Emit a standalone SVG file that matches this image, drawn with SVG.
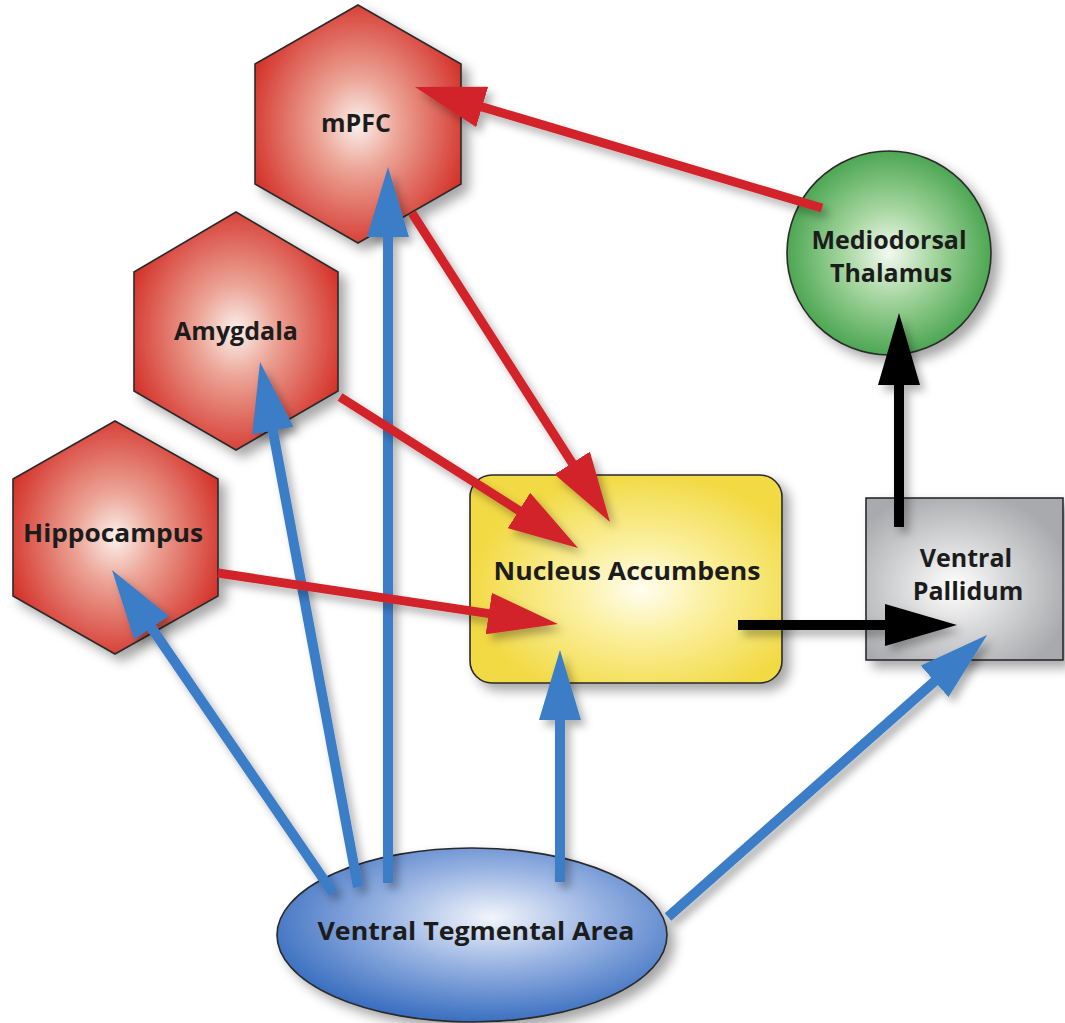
<svg xmlns="http://www.w3.org/2000/svg" width="1065" height="1023" viewBox="0 0 1065 1023">
<defs>
<radialGradient id="gRed" cx="50%" cy="50%" r="55%">
<stop offset="0" stop-color="#fbf1ee"/>
<stop offset="0.35" stop-color="#eca597"/>
<stop offset="1" stop-color="#d4322a"/>
</radialGradient>
<radialGradient id="gYellow" cx="55%" cy="55%" r="55%">
<stop offset="0" stop-color="#fffdf0"/>
<stop offset="0.4" stop-color="#fbf0a0"/>
<stop offset="1" stop-color="#f2da45"/>
</radialGradient>
<radialGradient id="gGray" cx="45%" cy="55%" r="60%">
<stop offset="0" stop-color="#ffffff"/>
<stop offset="1" stop-color="#a9aaad"/>
</radialGradient>
<radialGradient id="gGreen" cx="50%" cy="50%" r="55%">
<stop offset="0" stop-color="#f3f9f1"/>
<stop offset="0.4" stop-color="#a6d6a0"/>
<stop offset="1" stop-color="#3d9e45"/>
</radialGradient>
<radialGradient id="gBlue" cx="55%" cy="40%" r="60%">
<stop offset="0" stop-color="#f2f5fb"/>
<stop offset="0.45" stop-color="#9bb5e3"/>
<stop offset="1" stop-color="#3b6fc0"/>
</radialGradient>
<filter id="shadow" x="-20%" y="-20%" width="150%" height="150%">
<feDropShadow dx="7" dy="7" stdDeviation="6" flood-color="#000" flood-opacity="0.35"/>
</filter>
<filter id="ashadow" filterUnits="userSpaceOnUse" x="0" y="0" width="1065" height="1023">
<feDropShadow dx="5" dy="6" stdDeviation="4" flood-color="#000" flood-opacity="0.3"/>
</filter>
<marker id="hRed" markerUnits="userSpaceOnUse" viewBox="0 0 70 42" markerWidth="70" markerHeight="42" refX="2" refY="21" orient="auto">
<path d="M0,0 L70,21 L0,42 Z" fill="#d2232a"/>
</marker>
<marker id="hBlue" markerUnits="userSpaceOnUse" viewBox="0 0 70 42" markerWidth="70" markerHeight="42" refX="2" refY="21" orient="auto">
<path d="M0,0 L70,21 L0,42 Z" fill="#3b7dc7"/>
</marker>
<marker id="hBlack" markerUnits="userSpaceOnUse" viewBox="0 0 72 42" markerWidth="72" markerHeight="42" refX="2" refY="21" orient="auto">
<path d="M0,0 L72,21 L0,42 Z" fill="#000"/>
</marker>
</defs>
<style>
.node{stroke:#2a2a2a;stroke-width:1.6;filter:url(#shadow)}
.lbl{font-family:"Open Sans","DejaVu Sans",sans-serif;font-weight:700;font-size:25px;fill:#1c1c1c;text-anchor:middle}
.red{stroke:#d2232a;stroke-width:9;fill:none;marker-end:url(#hRed);filter:url(#ashadow)}
.blue{stroke:#3b7dc7;stroke-width:10;fill:none;marker-end:url(#hBlue);filter:url(#ashadow)}
.black{stroke:#000;stroke-width:10;fill:none;marker-end:url(#hBlack);filter:url(#ashadow)}
</style>
<rect width="1065" height="1023" fill="#ffffff"/>

<g id="mPFC">
<polygon class="node" fill="url(#gRed)" points="358,5 461,64 461,184 358,243 255,184 255,64"/>
<text class="lbl" x="356" y="132">mPFC</text>
</g>
<g id="amygdala">
<polygon class="node" fill="url(#gRed)" points="236,212 338,272 338,391 236,450 134,391 134,272"/>
<text class="lbl" x="236" y="340">Amygdala</text>
</g>
<g id="hippocampus">
<polygon class="node" fill="url(#gRed)" points="115,421 218,479 218,596 115,654 13,596 13,479"/>
<text class="lbl" x="113" y="542" textLength="180" lengthAdjust="spacingAndGlyphs">Hippocampus</text>
</g>
<g id="nucleus-accumbens">
<rect class="node" fill="url(#gYellow)" x="470" y="475" width="312" height="208" rx="22" ry="22"/>
<text class="lbl" x="627" y="580" textLength="267" lengthAdjust="spacingAndGlyphs">Nucleus Accumbens</text>
</g>
<g id="ventral-pallidum">
<rect class="node" fill="url(#gGray)" x="866" y="498" width="197" height="162"/>
<text class="lbl" x="966" y="567">Ventral</text>
<text class="lbl" x="968" y="600">Pallidum</text>
</g>
<g id="mediodorsal-thalamus">
<circle class="node" fill="url(#gGreen)" cx="889" cy="253" r="102"/>
<text class="lbl" x="889" y="249">Mediodorsal</text>
<text class="lbl" x="891" y="282">Thalamus</text>
</g>
<g id="vta">
<ellipse class="node" fill="url(#gBlue)" cx="472" cy="935" rx="195" ry="87"/>
<text class="lbl" x="476" y="940" textLength="317" lengthAdjust="spacingAndGlyphs">Ventral Tegmental Area</text>
</g>

<g id="connectors">
<line class="blue" x1="333" y1="893" x2="150.4" y2="626.1"/>
<line class="blue" x1="358" y1="887" x2="272.5" y2="428.8"/>
<line class="blue" x1="388" y1="883" x2="388" y2="235"/>
<line class="blue" x1="560" y1="882" x2="560" y2="718"/>
<line class="blue" x1="668" y1="917" x2="936.1" y2="680"/>
<line class="red" x1="822" y1="208" x2="480.2" y2="106.4"/>
<line class="red" x1="412" y1="213" x2="573.3" y2="464.7"/>
<line class="red" x1="340" y1="397" x2="520.6" y2="511.6"/>
<line class="red" x1="218" y1="573" x2="490.7" y2="613.9"/>
<line class="black" x1="738" y1="625" x2="887" y2="625"/>
<line class="black" x1="899" y1="527" x2="899" y2="383"/>
</g>
</svg>
